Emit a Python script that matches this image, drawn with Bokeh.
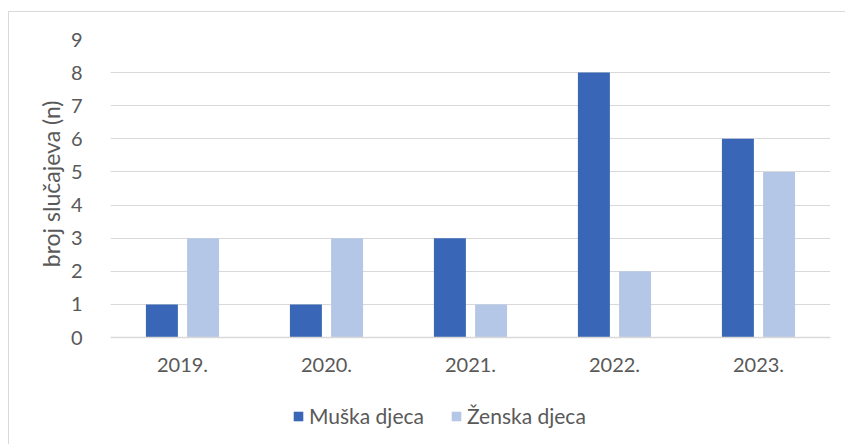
from bokeh.plotting import figure
from bokeh.models import ColumnDataSource, FactorRange, Range1d, Legend, LegendItem, FixedTicker, Title
from bokeh.transform import dodge
from bokeh.embed import file_html
from bokeh.resources import INLINE

years = ["2019.", "2020.", "2021.", "2022.", "2023."]
muska = [1, 1, 3, 8, 6]
zenska = [3, 3, 1, 2, 5]
y_ticks = [0, 1, 2, 3, 4, 5, 6, 7, 8, 9]
series_names = ["Muška djeca", "Ženska djeca"]
y_title = "broj slučajeva (n)"

DARK = "#3966B6"
LIGHT = "#B4C7E7"
TXT = "#595959"
GRID = "#D9D9D9"
FONT = "Lato"

src = ColumnDataSource(dict(years=years, muska=muska, zenska=zenska))

p = figure(
    x_range=FactorRange(factors=years, range_padding=0),
    y_range=Range1d(-3.2, 9),
    width=837, height=433,
    output_backend="svg", toolbar_location=None,
    min_border_left=101, min_border_right=16,
    min_border_top=27, min_border_bottom=2,
)
p.styles = {"border-top": "1px solid #D9D9D9", "border-left": "1px solid #D9D9D9"}
p.margin = (11, 0, 0, 8)
p.outline_line_color = None

r1 = p.vbar(x=dodge("years", -0.143, range=p.x_range), top="muska", width=0.222,
            source=src, fill_color=DARK, line_color=None)
r2 = p.vbar(x=dodge("years", 0.143, range=p.x_range), top="zenska", width=0.222,
            source=src, fill_color=LIGHT, line_color=None)

p.xgrid.grid_line_color = None
p.ygrid.grid_line_color = GRID
p.ygrid.grid_line_width = 1
p.yaxis.ticker = FixedTicker(ticks=y_ticks)

for ax in (p.xaxis[0], p.yaxis[0]):
    ax.major_tick_line_color = None
    ax.minor_tick_line_color = None
    ax.major_label_text_font = FONT
    ax.major_label_text_font_size = "20px"
    ax.major_label_text_color = TXT

p.xaxis.fixed_location = 0
p.xaxis.axis_line_color = GRID
p.xaxis.axis_line_width = 1.5
p.xaxis.major_label_standoff = 14
p.yaxis.axis_line_color = None
p.yaxis.major_label_standoff = 22

title = Title(text=y_title, align="right", offset=61, standoff=6,
              text_font=FONT, text_font_size="23px", text_font_style="normal",
              text_color=TXT)
p.add_layout(title, "left")

legend = Legend(
    items=[LegendItem(label=series_names[0], renderers=[r1]),
           LegendItem(label=series_names[1], renderers=[r2])],
    orientation="horizontal", location=(182, 15),
    glyph_width=12, glyph_height=12, label_standoff=5, spacing=26,
    label_text_font=FONT, label_text_font_size="21px", label_text_color=TXT,
    label_height=20, padding=0, margin=0,
    border_line_color=None, background_fill_alpha=0,
)
p.add_layout(legend, "center")

open("out.html", "w").write(file_html(p, INLINE))
